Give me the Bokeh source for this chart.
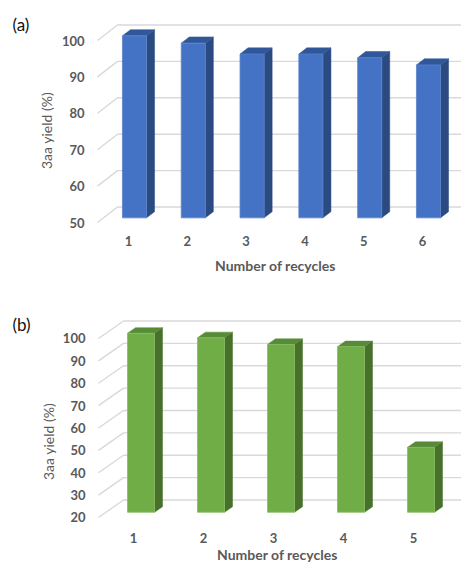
from bokeh.plotting import figure
from bokeh.layouts import column
from bokeh.core.properties import value
from bokeh.embed import file_html
from bokeh.resources import INLINE

# ---- data ----
cycles_a = [1, 2, 3, 4, 5, 6]
yield_a = [100, 98, 95, 95, 94, 92]
yticks_a = [50, 60, 70, 80, 90, 100]

cycles_b = [1, 2, 3, 4, 5]
yield_b = [100, 98, 95, 94, 49]
yticks_b = [20, 30, 40, 50, 60, 70, 80, 90, 100]

x_title = "Number of recycles"
y_title = "3aa yield (%)"
panel_tags = ["(a)", "(b)"]

FONT = "Lato"
GREY = "#595959"


def make_panel(cats, vals, yticks, tag, cfg):
    p = figure(width=461, height=cfg["height"], x_range=cfg["xr"], y_range=cfg["yr"],
               output_backend="svg", toolbar_location=None,
               x_axis_location=None, y_axis_location=None,
               min_border_left=0, min_border_right=0,
               min_border_top=0, min_border_bottom=0)
    p.outline_line_color = None
    p.grid.visible = False
    p.background_fill_color = "white"
    p.border_fill_color = "white"

    x0 = cfg["wall_x"]
    x1 = cfg["xr"][1]
    DX, DY = cfg["DX"], cfg["DY"]
    base = yticks[0]

    # 3D walls: sloped side-wall lines and horizontal back-wall lines
    xs = [[x0, x0 + DX, x1] for t in yticks]
    ys = [[t, t + DY, t + DY] for t in yticks]
    p.multi_line(xs=xs, ys=ys, line_color="#d9d9d9", line_width=1.4)

    # bars (front face, right side, top)
    d1, bd, w = cfg["d1"], cfg["bd"], cfg["w"]
    L = [c + d1 * DX - w / 2 for c in cats]
    R = [c + d1 * DX + w / 2 for c in cats]
    B = [base + d1 * DY for c in cats]
    T = [v + d1 * DY for v in vals]
    ox, oy = bd * DX, bd * DY
    side_xs = [[r, r + ox, r + ox, r] for r in R]
    side_ys = [[b, b + oy, t + oy, t] for b, t in zip(B, T)]
    top_xs = [[l, r, r + ox, l + ox] for l, r in zip(L, R)]
    top_ys = [[t, t, t + oy, t + oy] for t in T]
    p.patches(xs=side_xs, ys=side_ys, fill_color=cfg["side"], line_color=cfg["side"], line_width=0.5)
    p.patches(xs=top_xs, ys=top_ys, fill_color=cfg["top"], line_color=cfg["top"], line_width=0.5)
    p.quad(left=L, right=R, bottom=B, top=T, fill_color=cfg["front"],
           line_color=cfg["edge"], line_width=0.8)

    # tick labels
    p.text(x=[cfg["ylab_x"]] * len(yticks), y=yticks, text=[str(t) for t in yticks],
           text_font=value(FONT), text_font_style="bold", text_font_size="13px",
           text_color=GREY, text_align="right", text_baseline="middle")
    p.text(x=cats, y=[cfg["xlab_y"]] * len(cats), text=[str(c) for c in cats],
           text_font=value(FONT), text_font_style="bold", text_font_size="13px",
           text_color=GREY, text_align="center", text_baseline="middle")

    # axis titles
    p.text(x=[cfg["xt_x"]], y=[cfg["xt_y"]], text=[x_title],
           text_font=value(FONT), text_font_style="bold", text_font_size="14px",
           text_color=GREY, text_align="center", text_baseline="middle")
    p.text(x=[cfg["yt_x"]], y=[cfg["yt_y"]], text=[y_title], angle=1.5708,
           text_font=value(FONT), text_font_size="14px",
           text_color=GREY, text_align="center", text_baseline="middle")

    # panel tag
    p.text(x=[cfg["tag_x"]], y=[cfg["tag_y"]], text=[tag],
           text_font=value(FONT), text_font_size="17px",
           text_color="#111111", text_align="left", text_baseline="middle")
    return p


cfg_a = dict(height=290, xr=(-1.1769, 6.6633), yr=(31.319, 110.989), wall_x=0.4728,
             DX=0.34, DY=4.26, d1=0.3, bd=0.4, w=0.41,
             front="#4472C4", top="#30579A", side="#2A4A80", edge="#5B84CC",
             ylab_x=0.2517, xlab_y=45.05, xt_x=3.5, xt_y=38.19,
             yt_x=-0.3946, yt_y=75.27, tag_x=-0.973, tag_y=104.4)

cfg_b = dict(height=274, xr=(-0.9, 5.6857), yr=(-1.006, 121.45), wall_x=0.5,
             DX=0.357, DY=7.8, d1=0.3, bd=0.32, w=0.386,
             front="#70AD47", top="#578B37", side="#47702A", edge="#86BD62",
             ylab_x=0.314, xlab_y=10.9, xt_x=3.057, xt_y=3.4,
             yt_x=-0.214, yt_y=53.97, tag_x=-0.7286, tag_y=106.3)

pa = make_panel(cycles_a, yield_a, yticks_a, panel_tags[0], cfg_a)
pb = make_panel(cycles_b, yield_b, yticks_b, panel_tags[1], cfg_b)

layout = column(pa, pb, spacing=0)
open("out.html", "w").write(file_html(layout, INLINE))
